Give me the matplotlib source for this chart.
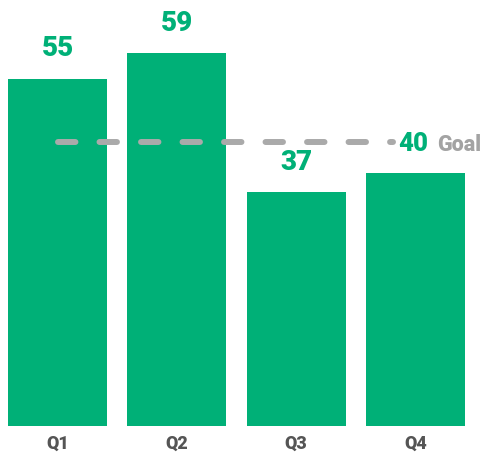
import matplotlib
matplotlib.use('Agg')
import matplotlib.pyplot as plt

quarters = ['Q1', 'Q2', 'Q3', 'Q4']
values = [55, 59, 37, 40]
labeled = [True, True, True, False]
goal_line = 45
goal_label = '40'
goal_text = 'Goal'

GREEN = '#00b077'
GREY = '#aaaaaa'

plt.rcParams['font.family'] = ['Roboto', 'DejaVu Sans']

fig = plt.figure(figsize=(4.82, 4.55), dpi=100)
fig.patch.set_facecolor('white')
ax = fig.add_axes([0, 29 / 455, 1, 1 - 29 / 455])
ax.set_facecolor('white')

x = list(range(len(quarters)))
ax.bar(x, values, width=0.83, color=GREEN, edgecolor='none')

# value labels above bars
for xi, v, show in zip(x, values, labeled):
    if show:
        ax.annotate(str(v), (xi, v), xytext=(0, 16), textcoords='offset points',
                    ha='center', va='baseline', fontsize=20, fontweight='black',
                    color=GREEN)

# goal line
ax.plot([0, 2.81], [goal_line, goal_line], color=GREY, linewidth=4.3,
        dashes=(2.92, 4.03), solid_capstyle='round', dash_capstyle='round')
ax.annotate(goal_label, (2.853, goal_line), xytext=(0, -6.5), textcoords='offset points',
            ha='left', va='baseline', fontsize=18.5, fontweight='black', color=GREEN)
ax.annotate(goal_text, (3.18, goal_line), xytext=(0, -6.5), textcoords='offset points',
            ha='left', va='baseline', fontsize=15.5, fontweight='black', color='#a3a3a3')

ax.set_xlim(-0.482, 3.557)
ax.set_ylim(0, 67.46)
ax.set_xticks(x)
ax.set_xticklabels(quarters, fontsize=13, fontweight='black', color='#555555')
ax.tick_params(axis='x', length=0, pad=6)
ax.set_yticks([])
for s in ax.spines.values():
    s.set_visible(False)

fig.savefig('out.png', dpi=100, facecolor='white')
